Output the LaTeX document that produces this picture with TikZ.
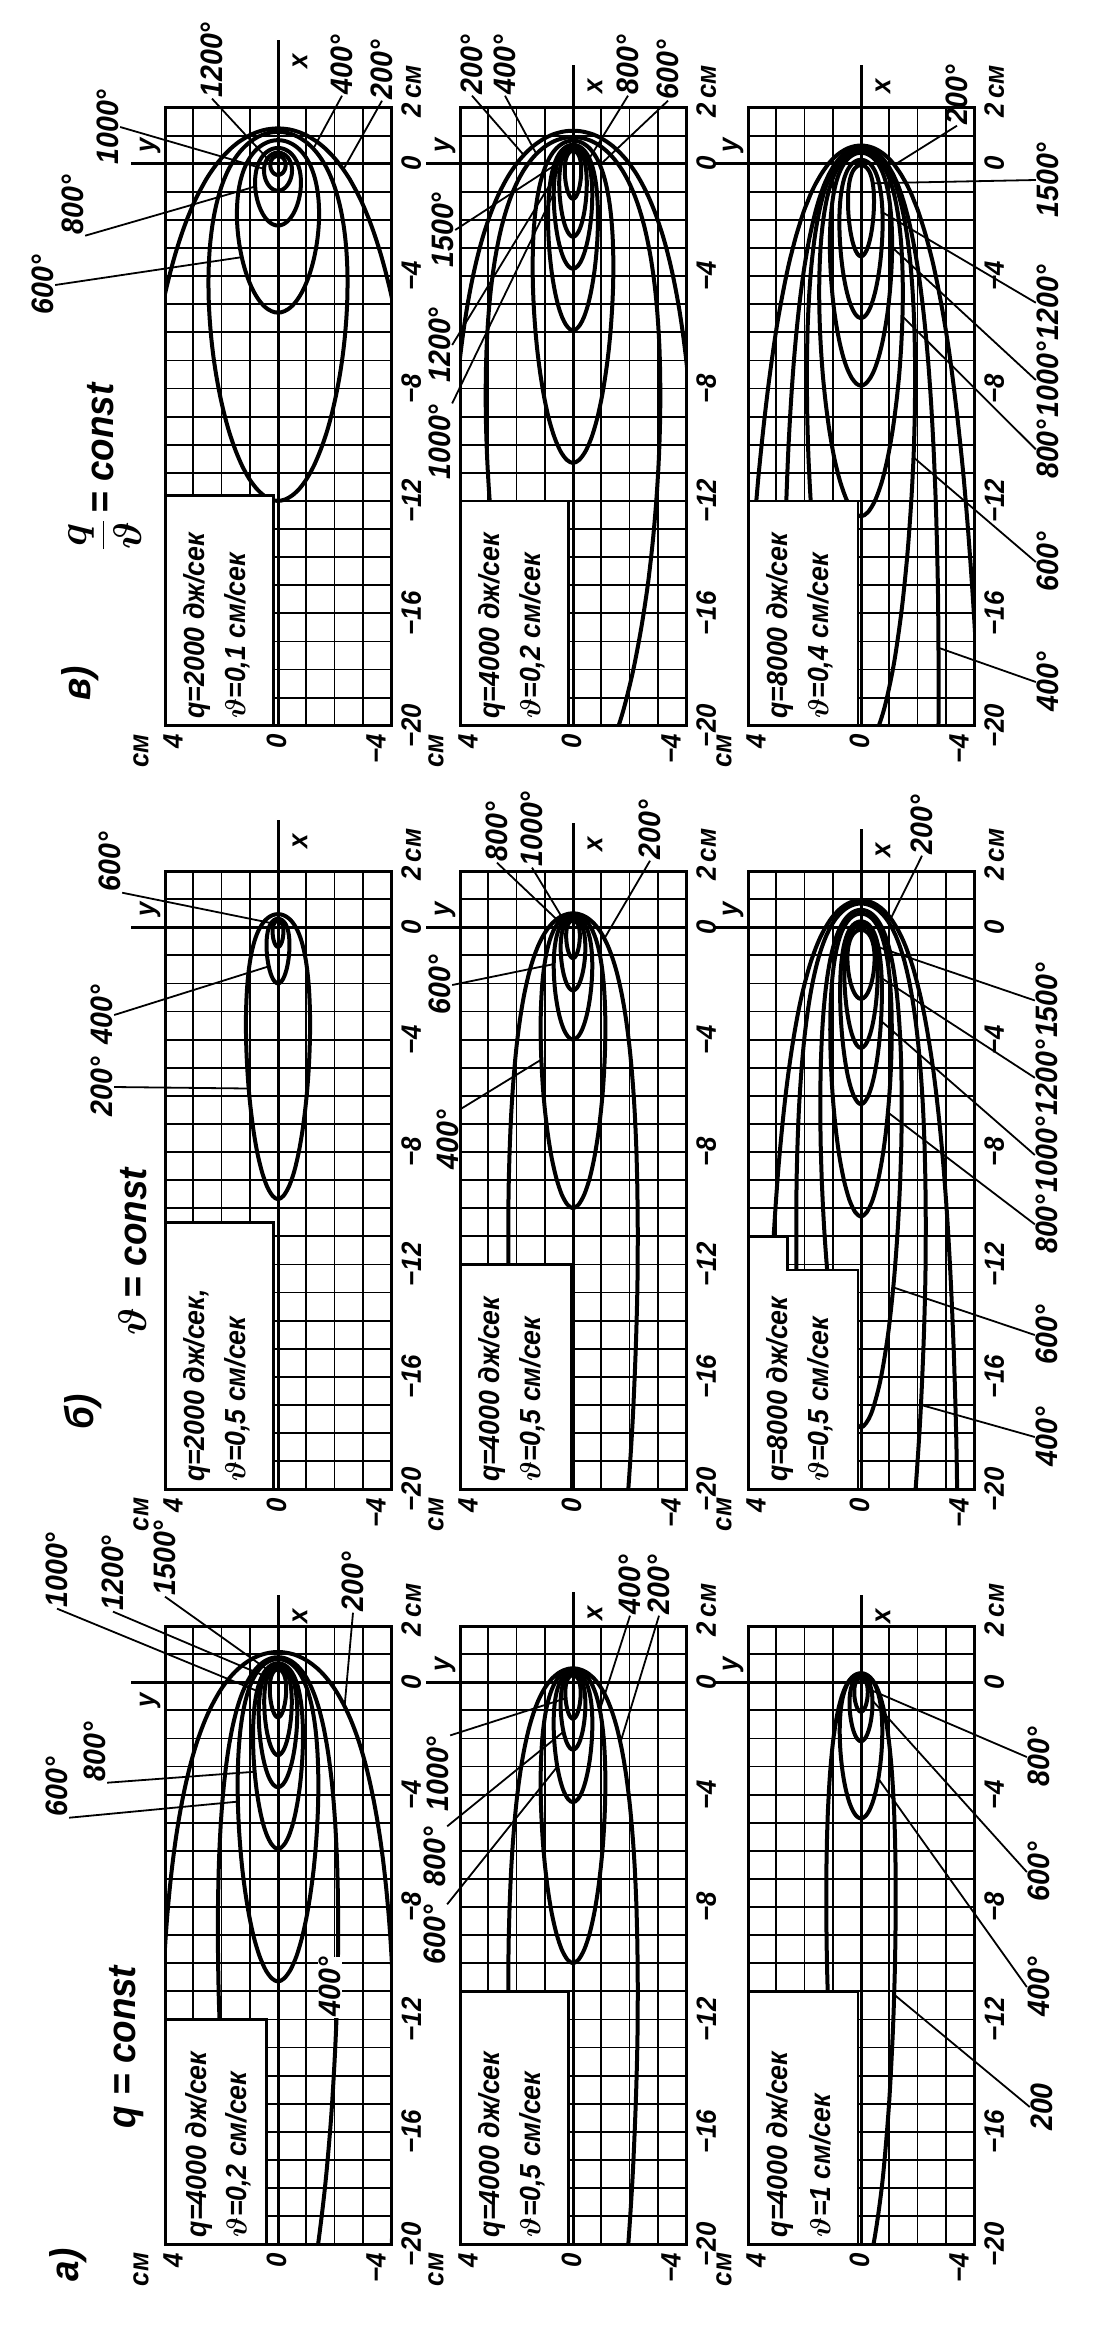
\documentclass[tikz,border=0pt]{standalone}
\usepackage{fix-cm}
\usepackage{amsmath}
\usepackage{fontspec}
\setmainfont{Liberation Sans}[FakeStretch=0.92]
\makeatletter
\pgfmathdeclarefunction{LW}{1}{%
  \begingroup
  \pgfmathparse{ln(1+#1)}\let\lwL\pgfmathresult
  \pgfmathparse{\lwL*(1-ln(1+\lwL)/(2+\lwL))}\let\lww\pgfmathresult
  \pgfmathparse{\lww-(\lww*exp(\lww)-#1)/(exp(\lww)*(\lww+1))}\let\lww\pgfmathresult
  \pgfmathparse{\lww-(\lww*exp(\lww)-#1)/(exp(\lww)*(\lww+1))}%
  \pgfmath@smuggleone\pgfmathresult
  \endgroup}
\makeatother
% isotherm R(t)=C*exp(-W(D(1+cos t))), shifted by s along x
\newcommand\isocalc[4]{%
  \pgfmathsetmacro\isor{#1*exp(-LW(#2*(1+cos(#4))))}%
  \pgfmathsetmacro\isox{#3+\isor*cos(#4)}%
  \pgfmathsetmacro\isoy{\isor*sin(#4)}}
\newcommand\iso[4]{%
  \expandafter\xdef\csname isoP#1\endcsname{{#2}{#3}{#4}}%
  \gdef\isolist{}%
  \foreach \i in {0,...,99}{%
    \pgfmathsetmacro\isou{\i/50-1}%
    \pgfmathsetmacro\isot{180+180*\isou*(0.3+0.7*abs(\isou))}%
    \isocalc{#2}{#3}{#4}{\isot}%
    \xdef\isolist{\isolist (\isox,\isoy)}}%
  \edef\isodo{\noexpand\draw[iso] plot[smooth cycle] coordinates {\isolist};}\isodo}
\newcommand\isopt[3]{\expandafter\expandafter\expandafter\isoptA\csname isoP#2\endcsname{#1}{#3}}
\newcommand\isoptA[5]{\isocalc{#1}{#2}{#3}{#5}\coordinate (#4) at (\isox,\isoy);}
\newcommand\panelgrid{%
  \foreach \i in {-19,...,1} {\draw[gridl] (\i,-4) -- (\i,4);}%
  \foreach \j in {-3,...,3} {\draw[gridl] (-20,\j) -- (2,\j);}}
% #1 prefix, #2 top of x axis line
\newcommand\panelaxes[2]{%
  \draw[axisl] (-20,0) -- (#2,0);
  \draw[axisl] (0,5.2) -- (0,-4);
  \draw[pframe] (-20,-4) rectangle (2,4);
  \pgfmathsetmacro\xlabpos{#2-0.75}%
  \node[tick] (#1x) at (\xlabpos,-0.78) {\textit{x}};}
\newcommand\paneltick[1]{%
  \node[tick,anchor=west] (#1t2) at (1.62,-4.72) {2\,см};
  \node[tick] (#1t0) at (0,-4.72) {0};
  \foreach \v in {4,8,12,16,20} {\node[tick] (#1t\v) at (-\v,-4.72) {−\v};}
  \node[tick,anchor=east] (#1b4) at (-20.28,3.72) {4};
  \node[tick,anchor=east] (#1bcm) at (-20.28,4.85) {см};
  \node[tick,anchor=east] (#1b0) at (-20.28,0.05) {0};
  \node[tick,anchor=east] (#1bm) at (-20.28,-3.47) {−4};}
\newcommand\panelbox[2]{\draw[boxst] (-20,4) rectangle (#1,#2);}
\newcommand\vth{$\boldsymbol{\vartheta}$}
\begin{document}
\begin{tikzpicture}[x=1pt,y=-1pt,
  iso/.style={line width=4pt,line join=round},
  gridl/.style={line width=1.8pt},
  pframe/.style={line width=3pt},
  axisl/.style={line width=3pt},
  lead/.style={line width=1.8pt},
  lab/.style={rotate=90,font=\fontsize{31}{33}\selectfont\bfseries\itshape,inner sep=1pt},
  glab/.style={rotate=90,font=\fontsize{40}{42}\selectfont\bfseries\itshape,inner sep=1pt},
  tick/.style={rotate=90,font=\fontsize{28}{30}\selectfont\bfseries\itshape,inner sep=0.5pt},
  boxt/.style={rotate=90,anchor=west,font=\fontsize{29}{31}\selectfont\bfseries\itshape,inner sep=0pt},
  boxst/.style={fill=white,draw=black,line width=2.6pt}]
\fill[white] (0,0) rectangle (1101,2327);
\useasboundingbox (0,0) rectangle (1101,2327);

% ================= group a =================
\begin{scope}[shift={(278,1682.2)},x={(0pt,28.1pt)},y={(-28.25pt,0pt)}]
  \panelgrid
  \begin{scope}
    \clip (-20,-4) rectangle (2,4);
    \iso{a1c200}{40}{67}{0}
    \iso{a1c400}{25}{100}{0.4}
    \iso{a1c600}{11.05}{42.7}{0.4}
    \iso{a1c800}{6.33}{36.4}{0.4}
    \iso{a1c1000}{4.14}{25.8}{0.4}
    \iso{a1c1200}{3.0}{26.5}{0.4}
    \iso{a1c1500}{1.6}{20.9}{0.35}
    \isopt{a1P200}{a1c200}{-110}
    \isopt{a1P600}{a1c600}{163}
    \isopt{a1P800}{a1c800}{167}
    \isopt{a1P1000}{a1c1000}{140}
    \isopt{a1P1200}{a1c1200}{120}
    \isopt{a1P1500}{a1c1500}{100}
  \end{scope}
  \panelbox{-12}{0.4}
  \node[boxt] (a1q) at (-19.75,2.8) {\textit{q}=4000 дж/сек};
  \node[boxt] (a1v) at (-19.75,1.4) {\vth=0,2 см/сек};
  \panelaxes{a1}{3.1}
  \paneltick{a1}
  \node[tick] (a1y) at (-0.64,4.53) {\textit{y}};
\end{scope}

\begin{scope}[shift={(573,1682.2)},x={(0pt,28.1pt)},y={(-28.25pt,0pt)}]
  \panelgrid
  \begin{scope}
    \clip (-20,-4) rectangle (2,4);
    \iso{a2c200}{30}{124.5}{0}
    \iso{a2c400}{10.15}{56.4}{0.15}
    \iso{a2c600}{4.42}{29.3}{0.15}
    \iso{a2c800}{2.55}{23.6}{0.15}
    \iso{a2c1000}{1.45}{19.7}{0.15}
    \isopt{a2P600}{a2c600}{170}
    \isopt{a2P800}{a2c800}{170}
    \isopt{a2P1000}{a2c1000}{160}
    \isopt{a2P400}{a2c400}{-140}
    \isopt{a2P200}{a2c200}{-142}
  \end{scope}
  \panelbox{-11}{0.15}
  \node[boxt] (a2q) at (-19.75,2.85) {\textit{q}=4000 дж/сек};
  \node[boxt] (a2v) at (-19.75,1.45) {\vth=0,5 см/сек};
  \panelaxes{a2}{3.2}
  \paneltick{a2}
  \node[tick] (a2y) at (0.64,4.53) {\textit{y}};
\end{scope}

\begin{scope}[shift={(861,1682.2)},x={(0pt,28.1pt)},y={(-28.25pt,0pt)}]
  \panelgrid
  \begin{scope}
    \clip (-20,-4) rectangle (2,4);
    \iso{a3c200}{21.3}{219}{0.1}
    \iso{a3c400}{4.9}{29.8}{0.05}
    \iso{a3c600}{2.15}{19.3}{0.05}
    \iso{a3c800}{1.1}{14.3}{0.05}
    \isopt{a3P800}{a3c800}{-140}
    \isopt{a3P600}{a3c600}{-150}
    \isopt{a3P400}{a3c400}{-170}
    \isopt{a3P200}{a3c200}{-174}
  \end{scope}
  \panelbox{-11}{0.1}
  \node[boxt] (a3q) at (-19.75,2.85) {\textit{q}=4000 дж/сек};
  \node[boxt] (a3v) at (-19.75,1.45) {\vth=1 см/сек};
  \panelaxes{a3}{3.1}
  \paneltick{a3}
  \node[tick] (a3y) at (0.64,4.53) {\textit{y}};
\end{scope}

% ================= group b =================
\begin{scope}[shift={(278,927.2)},x={(0pt,28.1pt)},y={(-28.25pt,0pt)}]
  \panelgrid
  \begin{scope}
    \clip (-20,-4) rectangle (2,4);
    \iso{b1c200}{9.83}{53.8}{0.15}
    \iso{b1c400}{2.15}{19.3}{0.15}
    \iso{b1c600}{0.85}{13.3}{0.15}
    \isopt{b1P600}{b1c600}{100}
    \isopt{b1P400}{b1c400}{168}
    \isopt{b1P200}{b1c200}{170}
  \end{scope}
  \panelbox{-10.5}{0.15}
  \node[boxt] (b1q) at (-19.75,2.85) {\textit{q}=2000 дж/сек,};
  \node[boxt] (b1v) at (-19.75,1.45) {\vth=0,5 см/сек};
  \panelaxes{b1}{3.8}
  \paneltick{b1}
  \node[tick] (b1y) at (0.64,4.53) {\textit{y}};
\end{scope}

\begin{scope}[shift={(573,927.2)},x={(0pt,28.1pt)},y={(-28.25pt,0pt)}]
  \panelgrid
  \begin{scope}
    \clip (-20,-4) rectangle (2,4);
    \iso{b2c200}{30}{124.5}{0}
    \iso{b2c400}{10.15}{56.4}{0.15}
    \iso{b2c600}{4.15}{25.9}{0.15}
    \iso{b2c800}{2.4}{20.9}{0.15}
    \iso{b2c1000}{1.25}{18.4}{0.15}
    \isopt{b2P800}{b2c800}{110}
    \isopt{b2P1000}{b2c1000}{120}
    \isopt{b2P200}{b2c200}{-110}
    \isopt{b2P600}{b2c600}{155}
    \isopt{b2P400}{b2c400}{167}
  \end{scope}
  \panelbox{-12}{0.05}
  \node[boxt] (b2q) at (-19.75,2.85) {\textit{q}=4000 дж/сек};
  \node[boxt] (b2v) at (-19.75,1.45) {\vth=0,5 см/сек};
  \panelaxes{b2}{3.7}
  \paneltick{b2}
  \node[tick] (b2y) at (0.64,4.53) {\textit{y}};
\end{scope}

\begin{scope}[shift={(861,927.2)},x={(0pt,28.1pt)},y={(-28.25pt,0pt)}]
  \panelgrid
  \begin{scope}
    \clip (-20,-4) rectangle (2,4);
    \iso{b3c200}{70}{302}{0.4}
    \iso{b3c400}{30}{124.5}{0.35}
    \iso{b3c600}{18.1}{114.7}{0.3}
    \iso{b3c800}{10.5}{67}{0.2}
    \iso{b3c1000}{6.3}{52}{0}
    \iso{b3c1200}{4.2}{36}{-0.1}
    \iso{b3c1500}{2.27}{15.2}{-0.28}
    \isopt{b3P200}{b3c200}{-95}
    \isopt{b3P1500}{b3c1500}{-130}
    \isopt{b3P1200}{b3c1200}{-160}
    \isopt{b3P1000}{b3c1000}{-168}
    \isopt{b3P800}{b3c800}{-172}
    \isopt{b3P600}{b3c600}{-175}
    \isopt{b3P400}{b3c400}{-173}
  \end{scope}
  \draw[boxst] (-20,4) -- (-11,4) -- (-11,2.6) -- (-12.2,2.6) -- (-12.2,0.1) -- (-20,0.1) -- cycle;
  \node[boxt] (b3q) at (-19.75,2.85) {\textit{q}=8000 дж/сек};
  \node[boxt] (b3v) at (-19.75,1.45) {\vth=0,5 см/сек};
  \panelaxes{b3}{3.5}
  \paneltick{b3}
  \node[tick] (b3y) at (0.64,4.53) {\textit{y}};
\end{scope}

% ================= group c =================
\begin{scope}[shift={(278,163.7)},x={(0pt,28.1pt)},y={(-28.25pt,0pt)}]
  \panelgrid
  \begin{scope}
    \clip (-20,-4) rectangle (2,4);
    \iso{c1c200}{60}{92}{0}
    \iso{c1c400}{12.2}{16.8}{0.2}
    \iso{c1c600}{5.5}{9.3}{0.2}
    \iso{c1c800}{2.35}{5.0}{0.15}
    \iso{c1c1000}{1.06}{2.3}{0.1}
    \iso{c1c1200}{0.5}{1.5}{0.1}
    \isopt{c1P600}{c1c600}{160}
    \isopt{c1P800}{c1c800}{140}
    \isopt{c1P1000}{c1c1000}{120}
    \isopt{c1P1200}{c1c1200}{100}
    \isopt{c1P400}{c1c400}{-75}
    \isopt{c1P200}{c1c200}{-95}
  \end{scope}
  \panelbox{-11.8}{0.15}
  \node[boxt] (c1q) at (-19.75,2.85) {\textit{q}=2000 дж/сек};
  \node[boxt] (c1v) at (-19.75,1.45) {\vth=0,1 см/сек};
  \panelaxes{c1}{4.4}
  \paneltick{c1}
  \node[tick] (c1y) at (0.64,4.53) {\textit{y}};
\end{scope}

\begin{scope}[shift={(573,163.7)},x={(0pt,28.1pt)},y={(-28.25pt,0pt)}]
  \panelgrid
  \begin{scope}
    \clip (-20,-4) rectangle (2,4);
    \iso{c2c200}{40}{60}{0}
    \iso{c2c400}{22.4}{37.3}{0}
    \iso{c2c600}{11.05}{42.7}{0.4}
    \iso{c2c800}{6.33}{36.4}{0.4}
    \iso{c2c1000}{4.14}{25.8}{0.4}
    \iso{c2c1200}{3.0}{26.5}{0.4}
    \iso{c2c1500}{1.6}{20.9}{0.35}
    \isopt{c2P200}{c2c200}{80}
    \isopt{c2P400}{c2c400}{75}
    \isopt{c2P800}{c2c800}{-110}
    \isopt{c2P600}{c2c600}{-115}
    \isopt{c2P1500}{c2c1500}{120}
    \isopt{c2P1200}{c2c1200}{140}
    \isopt{c2P1000}{c2c1000}{155}
  \end{scope}
  \panelbox{-12}{0.15}
  \node[boxt] (c2q) at (-19.75,2.85) {\textit{q}=4000 дж/сек};
  \node[boxt] (c2v) at (-19.75,1.45) {\vth=0,2 см/сек};
  \panelaxes{c2}{3.5}
  \paneltick{c2}
  \node[tick] (c2y) at (0.64,4.53) {\textit{y}};
\end{scope}

\begin{scope}[shift={(861,163.7)},x={(0pt,28.1pt)},y={(-28.25pt,0pt)}]
  \panelgrid
  \begin{scope}
    \clip (-20,-4) rectangle (2,4);
    \iso{c3c200}{120}{484}{0}
    \iso{c3c400}{52}{261}{0.12}
    \iso{c3c600}{21.05}{87.4}{0.1}
    \iso{c3c800}{12.6}{52}{0.05}
    \iso{c3c1000}{7.95}{37}{0.05}
    \iso{c3c1200}{5.4}{35.3}{-0.1}
    \iso{c3c1500}{3.1}{32}{-0.2}
    \isopt{c3P200}{c3c200}{-92}
    \isopt{c3P1500}{c3c1500}{-140}
    \isopt{c3P1200}{c3c1200}{-155}
    \isopt{c3P1000}{c3c1000}{-160}
    \isopt{c3P800}{c3c800}{-165}
    \isopt{c3P600}{c3c600}{-170}
    \isopt{c3P400}{c3c400}{-171}
  \end{scope}
  \panelbox{-12}{0.1}
  \node[boxt] (c3q) at (-19.75,2.85) {\textit{q}=8000 дж/сек};
  \node[boxt] (c3v) at (-19.75,1.45) {\vth=0,4 см/сек};
  \panelaxes{c3}{3.5}
  \paneltick{c3}
  \node[tick] (c3y) at (0.64,4.53) {\textit{y}};
\end{scope}

% ================= group titles =================
\node[glab] (ga) at (68,2265) {а)};
\node[glab] (gaq) at (127,2047) {\textit{q} = const};
\node[glab] (gb) at (83,1412) {б)};
\node[glab] (gbv) at (133,1252) {\vth\ = const};
\node[glab] (gc) at (80,683) {в)};
\node[glab] (gcq) at (105,467) {$\displaystyle\frac{\boldsymbol{q}}{\boldsymbol{\vartheta}}$\,= const};

% ================= labels a =================
\node[lab] (a1L600) at (57,1787) {600°};
\node[lab] (a1L800) at (95,1752) {800°};
\node[lab] (a1L1000) at (57,1570) {1000°};
\node[lab] (a1L1200) at (113,1573) {1200°};
\node[lab] (a1L1500) at (165,1558) {1500°};
\node[lab] (a1L200) at (353,1582) {200°};
\node[lab,fill=white] (a1L400) at (330,1987) {400°};
\draw[lead] (a1L600.south west) -- (a1P600);
\draw[lead] (a1L800.south west) -- (a1P800);
\draw[lead] (a1L1000.west) -- (a1P1000);
\draw[lead] (a1L1200.west) -- (a1P1200);
\draw[lead] (a1L1500.west) -- (a1P1500);
\draw[lead] (a1L200.west) -- (a1P200);

\node[lab] (a2L600) at (435,1935) {600°};
\node[lab] (a2L800) at (435,1857) {800°};
\node[lab] (a2L1000) at (438,1774) {1000°};
\node[lab] (a2L400) at (630,1585) {400°};
\node[lab] (a2L200) at (659,1585) {200°};
\draw[lead] (a2L600.south east) -- (a2P600);
\draw[lead] (a2L800.south east) -- (a2P800);
\draw[lead] (a2L1000.south east) -- (a2P1000);
\draw[lead] (a2L400.west) -- (a2P400);
\draw[lead] (a2L200.west) -- (a2P200);

\node[lab] (a3L800) at (1039,1757) {800°};
\node[lab] (a3L600) at (1039,1872) {600°};
\node[lab] (a3L400) at (1039,1987) {400°};
\node[lab] (a3L200) at (1042,2107) {200};
\draw[lead] (a3L800.north) -- (a3P800);
\draw[lead] (a3L600.north) -- (a3P600);
\draw[lead] (a3L400.north) -- (a3P400);
\draw[lead] (a3L200.north) -- (a3P200);

% ================= labels b =================
\node[lab] (b1L600) at (110,862) {600°};
\node[lab] (b1L400) at (102,1015) {400°};
\node[lab] (b1L200) at (102,1087) {200°};
\draw[lead] (b1L600.south west) -- (b1P600);
\draw[lead] (b1L400.south) -- (b1P400);
\draw[lead] (b1L200.south) -- (b1P200);

\node[lab] (b2L800) at (497,832) {800°};
\node[lab] (b2L1000) at (532,829) {1000°};
\node[lab] (b2L200) at (650,830) {200°};
\node[lab] (b2L600) at (440,985) {600°};
\node[lab] (b2L400) at (448,1140) {400°};
\draw[lead] (b2L800.west) -- (b2P800);
\draw[lead] (b2L1000.west) -- (b2P1000);
\draw[lead] (b2L200.west) -- (b2P200);
\draw[lead] (b2L600.south) -- (b2P600);
\draw[lead] (b2L400.south east) -- (b2P400);

\node[lab] (b3L200) at (922,825) {200°};
\node[lab,anchor=west] (b3L800) at (1047,1255) {800°};
\node[lab,anchor=west] (b3L1000) at (b3L800.east) {1000°};
\node[lab,anchor=west] (b3L1200) at (b3L1000.east) {1200°};
\node[lab,anchor=west] (b3L1500) at (b3L1200.east) {1500°};
\node[lab] (b3L600) at (1047,1335) {600°};
\node[lab] (b3L400) at (1047,1437) {400°};
\draw[lead] (b3L200.west) -- (b3P200);
\draw[lead] (b3L1500.north) -- (b3P1500);
\draw[lead] (b3L1200.north) -- (b3P1200);
\draw[lead] (b3L1000.north) -- (b3P1000);
\draw[lead] (b3L800.north) -- (b3P800);
\draw[lead] (b3L600.north) -- (b3P600);
\draw[lead] (b3L400.north) -- (b3P400);

% ================= labels c =================
\node[lab] (c1L600) at (43,285) {600°};
\node[lab] (c1L800) at (73,205) {800°};
\node[lab] (c1L1000) at (108,127) {1000°};
\node[lab] (c1L1200) at (212,60) {1200°};
\node[lab] (c1L400) at (342,65) {400°};
\node[lab] (c1L200) at (382,70) {200°};
\draw[lead] (c1L600.south) -- (c1P600);
\draw[lead] (c1L800.south west) -- (c1P800);
\draw[lead] (c1L1000.south) -- (c1P1000);
\draw[lead] (c1L1200.west) -- (c1P1200);
\draw[lead] (c1L400.west) -- (c1P400);
\draw[lead] (c1L200.west) -- (c1P200);

\node[lab] (c2L200) at (472,65) {200°};
\node[lab] (c2L400) at (505,65) {400°};
\node[lab] (c2L800) at (628,65) {800°};
\node[lab] (c2L600) at (668,70) {600°};
\node[lab] (c2L1500) at (443,230) {1500°};
\node[lab] (c2L1200) at (440,345) {1200°};
\node[lab] (c2L1000) at (440,442) {1000°};
\draw[lead] (c2L200.west) -- (c2P200);
\draw[lead] (c2L400.west) -- (c2P400);
\draw[lead] (c2L800.west) -- (c2P800);
\draw[lead] (c2L600.west) -- (c2P600);
\draw[lead] (c2L1500.south) -- (c2P1500);
\draw[lead] (c2L1200.south) -- (c2P1200);
\draw[lead] (c2L1000.south east) -- (c2P1000);

\node[lab] (c3L200) at (957,95) {200°};
\node[lab] (c3L1500) at (1048,180) {1500°};
\node[lab,anchor=west] (c3L800) at (1048,480) {800°};
\node[lab,anchor=west] (c3L1000) at (c3L800.east) {1000°};
\node[lab,anchor=west] (c3L1200) at (c3L1000.east) {1200°};
\node[lab] (c3L600) at (1048,562) {600°};
\node[lab] (c3L400) at (1048,682) {400°};
\draw[lead] (c3L200.west) -- (c3P200);
\draw[lead] (c3L1500.north) -- (c3P1500);
\draw[lead] (c3L1200.north) -- (c3P1200);
\draw[lead] (c3L1000.north) -- (c3P1000);
\draw[lead] (c3L800.north) -- (c3P800);
\draw[lead] (c3L600.north) -- (c3P600);
\draw[lead] (c3L400.north) -- (c3P400);
\end{tikzpicture}
\end{document}
